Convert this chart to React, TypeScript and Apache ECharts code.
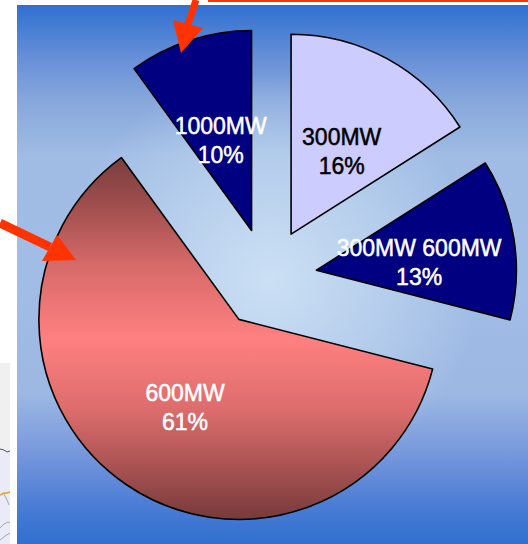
import React, { useEffect, useRef } from "react";
import * as echarts from "echarts";

const names = ["300MW", "300MW 600MW", "600MW", "1000MW"];
const values = [16, 13, 61, 10];
const labelColors = ["#000000", "#ffffff", "#ffffff", "#ffffff"];

const redGradient = new echarts.graphic.LinearGradient(0, 0, 0, 1, [
  { offset: 0, color: "#7a3e3e" },
  { offset: 0.12, color: "#9c4c4c" },
  { offset: 0.3, color: "#d86a6a" },
  { offset: 0.5, color: "#ff8080" },
  { offset: 0.7, color: "#dc6c6c" },
  { offset: 0.88, color: "#a04e4e" },
  { offset: 1, color: "#783a3a" },
]);
const fills = ["#ccccff", "#000080", redGradient, "#000080"];

export default function App() {
  const ref = useRef<HTMLDivElement>(null);
  useEffect(() => {
    if (!ref.current) return;
    const chart = echarts.init(ref.current, undefined, { renderer: "svg" });
    const bgVertical = new echarts.graphic.LinearGradient(0, 0, 0, 1, [
      { offset: 0, color: "#3070d0" },
      { offset: 0.1, color: "#6890d8" },
      { offset: 0.18, color: "#88a8dc" },
      { offset: 0.28, color: "#a0bce4" },
      { offset: 0.5, color: "#a2bde5" },
      { offset: 0.72, color: "#9cb8e3" },
      { offset: 0.83, color: "#7898dc" },
      { offset: 0.93, color: "#4a7cd4" },
      { offset: 1, color: "#3070d0" },
    ]);
    const bgRadial = new echarts.graphic.RadialGradient(0.5, 0.5, 0.5, [
      { offset: 0, color: "rgba(208,228,246,0.9)" },
      { offset: 0.55, color: "rgba(208,228,246,0.45)" },
      { offset: 1, color: "rgba(208,228,246,0)" },
    ]);
    chart.setOption({
      animation: false,
      graphic: [
        { type: "rect", z: -20, shape: { x: 17, y: 5, width: 511, height: 539 }, style: { fill: bgVertical } },
        { type: "rect", z: -19, shape: { x: 60, y: 70, width: 420, height: 420 }, style: { fill: bgRadial } },
        { type: "rect", z: -18, shape: { x: 208, y: 0, width: 320, height: 2 }, style: { fill: "#ff3300" } },
        { type: "rect", z: -18, shape: { x: 0, y: 363, width: 10, height: 181 }, style: { fill: "#f0f0f0" } },
        { type: "rect", z: -18, shape: { x: 0, y: 450, width: 10, height: 94 }, style: { fill: "#eaeaf8" } },
        { type: "polyline", z: -17, shape: { points: [[0, 449], [4, 450], [7, 452], [10, 451]] }, style: { stroke: "#555", lineWidth: 1, fill: null } },
        { type: "polyline", z: -17, shape: { points: [[0, 495], [4, 493], [7, 493], [10, 492]] }, style: { stroke: "#e8a020", lineWidth: 1.5, fill: null } },
        { type: "polyline", z: -17, shape: { points: [[4, 494], [7, 500], [9, 505]] }, style: { stroke: "#9ab0a0", lineWidth: 1, fill: null } },
        { type: "polyline", z: -17, shape: { points: [[0, 528], [4, 524], [8, 522], [10, 523]] }, style: { stroke: "#9ab0a0", lineWidth: 1, fill: null } },
        { type: "polyline", z: -17, shape: { points: [[0, 540], [5, 536], [10, 533]] }, style: { stroke: "#9ab0a0", lineWidth: 1, fill: null } },
        { type: "line", z: 100, shape: { x1: 196, y1: 0, x2: 187, y2: 27 }, style: { stroke: "#ff3300", lineWidth: 7 } },
        { type: "polygon", z: 100, shape: { points: [[173, 20], [203, 28], [181, 53]] }, style: { fill: "#ff3300" } },
        { type: "line", z: 100, shape: { x1: 0, y1: 223, x2: 50, y2: 247 }, style: { stroke: "#ff3300", lineWidth: 9 } },
        { type: "polygon", z: 100, shape: { points: [[57, 235], [42, 261], [76, 260]] }, style: { fill: "#ff3300" } },
      ],
      series: [
        {
          type: "pie",
          center: [267, 278],
          radius: 200,
          startAngle: 90,
          clockwise: true,
          selectedMode: "multiple",
          selectedOffset: 50,
          avoidLabelOverlap: false,
          minShowLabelAngle: 0,
          labelLayout: (p: any) => ({ hideOverlap: false, dx: p.dataIndex === 2 ? 4 : 1, dy: p.dataIndex === 2 ? 3 : 8 }),
          silent: true,
          emphasis: { disabled: true },
          itemStyle: { borderColor: "#000000", borderWidth: 1.6 },
          label: {
            show: true,
            position: "inner",
            formatter: "{b}\n{c}%",
            fontFamily: "Liberation Sans",
            fontSize: 23,
            lineHeight: 29,
            overflow: "none",
          },
          labelLine: { show: false },
          data: names.map((n, i) => ({
            name: n,
            value: values[i],
            selected: true,
            itemStyle: { color: fills[i] },
            label: { color: labelColors[i], textBorderColor: labelColors[i], textBorderWidth: 0.5 },
          })),
        },
      ],
    });
    return () => chart.dispose();
  }, []);
  return (
    <div
      ref={ref}
      style={{ position: "absolute", left: 0, top: 0, width: 528, height: 544, background: "#ffffff" }}
    />
  );
}
